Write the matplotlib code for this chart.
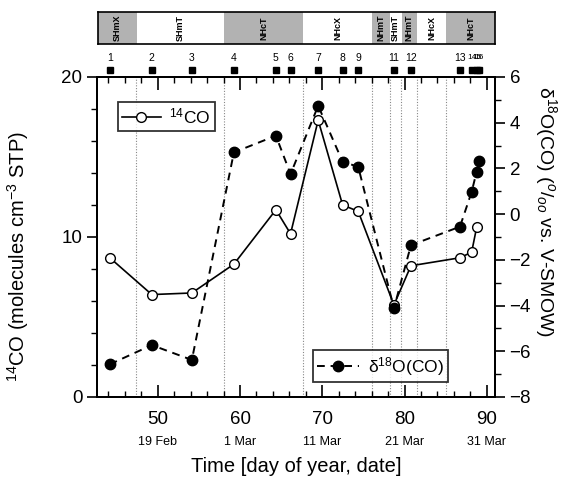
import matplotlib
matplotlib.use("Agg")
import matplotlib.pyplot as plt
from matplotlib.transforms import blended_transform_factory
from matplotlib.ticker import MultipleLocator

plt.rcParams['font.family'] = ['Liberation Sans', 'DejaVu Sans']
plt.rcParams['mathtext.fontset'] = 'custom'
plt.rcParams['mathtext.rm'] = 'Liberation Sans'
plt.rcParams['mathtext.it'] = 'Liberation Sans:italic'

# ---- data ----
co14_days = [44.16, 49.27, 54.14, 59.25, 64.36, 66.14, 69.50, 72.47, 74.37,
             78.71, 80.78, 86.74, 88.16, 88.77]
co14_vals = [8.7, 6.4, 6.5, 8.3, 11.7, 10.2, 17.3, 12.0, 11.6,
             5.75, 8.2, 8.7, 9.05, 10.6]

d18_days = [44.16, 49.27, 54.14, 59.25, 64.36, 66.14, 69.50, 72.47, 74.37,
            78.71, 80.78, 86.74, 88.16, 88.77, 89.09]
d18_vals = [-6.57, -5.73, -6.38, 2.70, 3.43, 1.75, 4.74, 2.29, 2.07,
            -4.12, -1.36, -0.55, 0.97, 1.86, 2.32]

sample_labels = ['1', '2', '3', '4', '5', '6', '7', '8', '9',
                 '11', '12', '13', '14', '15', '16']

airmass_bounds = [42.6, 47.3, 58.0, 67.6, 76.0, 78.2, 79.6, 81.5, 85.0, 91.0]
airmass_labels = ['SHmX', 'SHmT', 'NHcT', 'NHcX', 'NHmT', 'SHmT', 'NHmT', 'NHcX', 'NHcT']
airmass_gray = [True, False, True, False, True, False, True, False, True]

date_days = [50, 60, 70, 80, 90]
date_labels = ['19 Feb', '1 Mar', '11 Mar', '21 Mar', '31 Mar']

xlim = (42.6, 91.0)

fig = plt.figure(figsize=(5.67, 4.78), dpi=100)
ax = fig.add_axes([0.171, 0.1695, 0.702, 0.6695])
ax2 = ax.twinx()

# vertical dotted lines
for b in airmass_bounds[1:-1]:
    ax.axvline(b, color='#888888', lw=0.8, ls=(0, (1, 1.5)), zorder=0)

l1, = ax.plot(co14_days, co14_vals, '-', color='black', lw=1.2, marker='o',
              mfc='white', mec='black', ms=7, mew=1.0, zorder=3)
l2, = ax2.plot(d18_days, d18_vals, color='black', lw=1.4, ls=(0, (4, 3)),
               marker='o', mfc='black', mec='black', ms=7.5, zorder=3)

ax.set_xlim(*xlim)
ax.set_ylim(0, 20)
ax2.set_ylim(-8, 6)

ax.xaxis.set_major_locator(MultipleLocator(10))
ax.xaxis.set_minor_locator(MultipleLocator(2))
ax.yaxis.set_major_locator(MultipleLocator(10))
ax.yaxis.set_minor_locator(MultipleLocator(2))
ax2.yaxis.set_major_locator(MultipleLocator(2))
ax2.yaxis.set_minor_locator(MultipleLocator(1))

ax.tick_params(axis='x', which='both', direction='in', top=True, bottom=True,
               labelsize=13.5, pad=10)
ax.tick_params(axis='x', which='major', length=9, width=1.2)
ax.tick_params(axis='x', which='minor', length=4.5, width=1.0)
ax.tick_params(axis='y', which='major', direction='out', length=7, width=1.2,
               labelsize=13.5)
ax.tick_params(axis='y', which='minor', direction='out', length=4, width=1.0)
ax2.tick_params(axis='y', which='major', direction='out', length=7, width=1.2,
                labelsize=13.5)
ax2.tick_params(axis='y', which='minor', direction='out', length=4, width=1.0)

for a in (ax, ax2):
    for s in a.spines.values():
        s.set_linewidth(1.4)

ax.set_ylabel(r'$^{14}$CO (molecules cm$^{-3}$ STP)', fontsize=14.5)
ax.yaxis.set_label_coords(-0.165, 0.44)
ax2.set_ylabel('δ$^{18}$O(CO) ($^{o}$/$_{oo}$ vs. V-SMOW)', fontsize=14,
               rotation=270, va='bottom')
ax2.yaxis.set_label_coords(1.095, 0.58)

ax.set_xlabel('Time [day of year, date]', fontsize=14.5, labelpad=21)

trans = blended_transform_factory(ax.transData, ax.transAxes)
for d, lab in zip(date_days, date_labels):
    ax.text(d, -0.14, lab, transform=trans, ha='center', va='center', fontsize=9)

# sample markers above the axes
ax.plot(d18_days, [1.022] * len(d18_days), 's', color='black', ms=4.5,
        transform=trans, clip_on=False)
for d, lab in zip(d18_days, sample_labels):
    fs = 6.0 if d > 88 else 7.5
    ax.text(d, 1.06, lab, transform=trans, ha='center', va='center', fontsize=fs)

# legends
leg1 = ax.legend([l1], [r'$^{14}$CO'], loc='upper left',
                 bbox_to_anchor=(0.053, 0.922), borderaxespad=0, fontsize=12.5,
                 frameon=True, fancybox=False, edgecolor='black', handlelength=2.2,
                 borderpad=0.25, handletextpad=0.5)
leg1.get_frame().set_linewidth(1.3)
leg2 = ax2.legend([l2], ['δ$^{18}$O(CO)'], loc='lower right',
                  bbox_to_anchor=(0.882, 0.047), borderaxespad=0, fontsize=12.5,
                  frameon=True, fancybox=False, edgecolor='black', handlelength=2.4,
                  borderpad=0.25, handletextpad=0.5)
leg2.get_frame().set_linewidth(1.3)

# air mass bar
axb = fig.add_axes([0.173, 0.908, 0.700, 0.067])
axb.set_xlim(*xlim)
axb.set_ylim(0, 1)
for i, lab in enumerate(airmass_labels):
    x0, x1 = airmass_bounds[i], airmass_bounds[i + 1]
    if airmass_gray[i]:
        axb.axvspan(x0, x1, color='#b2b2b2', lw=0)
    axb.text((x0 + x1) / 2, 0.5, lab, rotation=90, ha='center', va='center',
             fontsize=6.5, fontweight='bold')
axb.set_xticks([])
axb.set_yticks([])
for s in axb.spines.values():
    s.set_linewidth(1.2)

fig.savefig('out.png', dpi=100)
